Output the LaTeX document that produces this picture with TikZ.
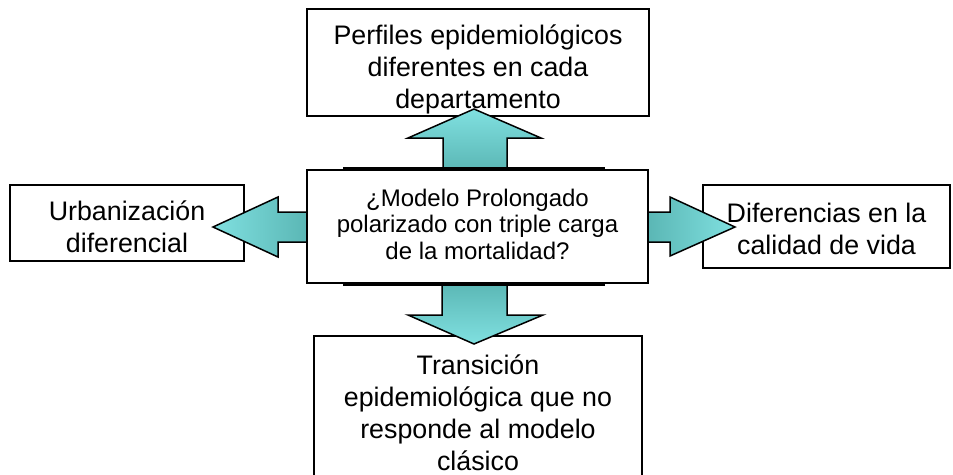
\documentclass[tikz,border=0pt]{standalone}
\usepackage{fontspec}
\setmainfont{Liberation Sans}
\begin{document}
\begin{tikzpicture}[x=1pt,y=-1pt,
  box/.style={draw=black,line width=1.5pt,fill=white,rectangle,inner sep=0pt},
  txt/.style={align=center,inner sep=0pt,font=\fontsize{26.8}{32}\selectfont},
  ctxt/.style={align=center,inner sep=0pt,font=\fontsize{24}{26.5}\selectfont},
  blockarrow/.style={draw=black,line width=1.5pt,line join=miter},
]
\definecolor{arrlight}{RGB}{128,224,224}
\definecolor{arrdark}{RGB}{90,182,180}
\clip (0,0) rectangle (953,474);
% outer boxes
\node[box,minimum width=342pt,minimum height=107pt] (topbox) at (478,62.5) {};
\node[box,minimum width=328pt,minimum height=160pt] (botbox) at (478,416) {};
\node[box,minimum width=234pt,minimum height=76pt] (leftbox) at (127,223) {};
\node[box,minimum width=247pt,minimum height=83pt] (rightbox) at (826.5,226.5) {};
\begin{scope}
  \clip (topbox.north west) rectangle (topbox.south east);
  \node[txt] (toptext) at (478,69) {Perfiles epidemiológicos\\diferentes en cada\\departamento};
\end{scope}
\node[txt] (bottext) at (478,412.5) {Transición\\epidemiológica que no\\responde al modelo\\clásico};
\node[txt] (lefttext) at (127,227) {Urbanización\\diferencial};
\node[txt] (righttext) at (826.5,228.5) {Diferencias en la\\calidad de vida};
% block arrows
\draw[blockarrow,top color=arrlight,bottom color=arrdark]
  (443,172) -- (443,138) -- (408,138) -- (474,109) -- (541,138) -- (507,138) -- (507,172) -- cycle;
\draw[blockarrow,top color=arrdark,bottom color=arrlight]
  (442,281) -- (442,315) -- (408,315) -- (474,344) -- (543,315) -- (507,315) -- (507,281) -- cycle;
\draw[blockarrow,left color=arrlight,right color=arrdark]
  (309,212) -- (278,212) -- (278,197) -- (213,227) -- (278,257) -- (278,242) -- (309,242) -- cycle;
\draw[blockarrow,left color=arrdark,right color=arrlight]
  (646,212) -- (670,212) -- (670,197) -- (735,227) -- (670,256) -- (670,242) -- (646,242) -- cycle;
% centre box
\node[box,minimum width=341pt,minimum height=113pt] (centre) at (477.5,226.5) {};
\node[ctxt] (centretext) at (477.5,224) {¿Modelo Prolongado\\polarizado con triple carga\\de la mortalidad?};
\coordinate (tl) at (343,168);
\coordinate (tr) at (605,168);
\coordinate (bl) at (343,285);
\coordinate (br) at (605,285);
\draw[line width=2.5pt] (tl) -- (tr);
\draw[line width=2.5pt] (bl) -- (br);
\end{tikzpicture}
\end{document}
